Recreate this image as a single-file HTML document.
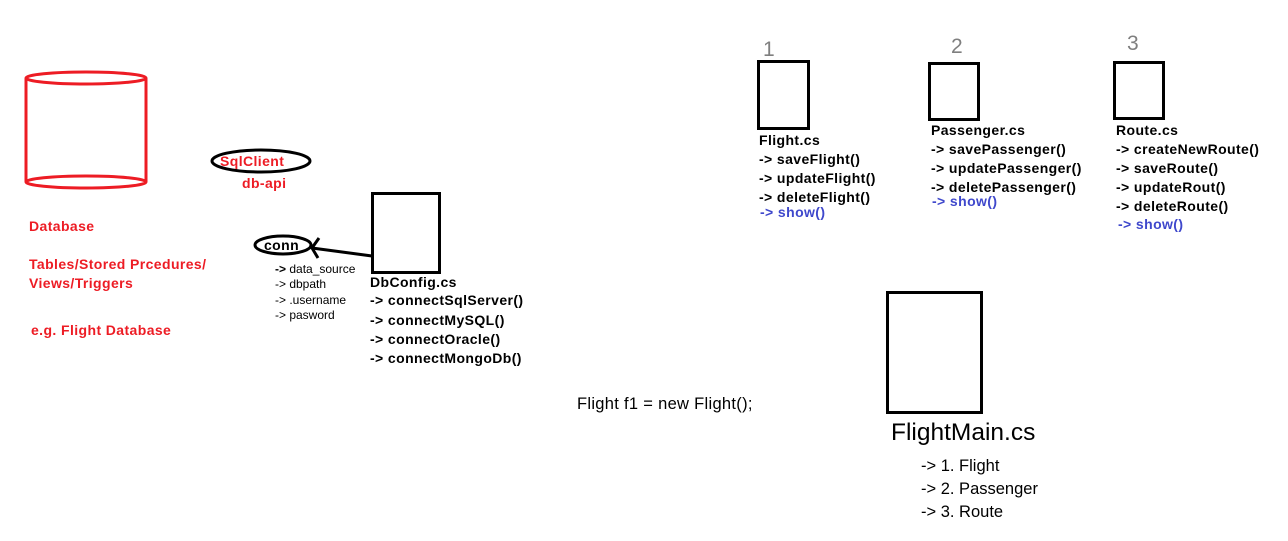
<!DOCTYPE html>
<html><head><meta charset="utf-8"><style>
html,body{margin:0;padding:0;background:#fff;}
svg{display:block;}
text{font-family:"Liberation Sans","DejaVu Sans",sans-serif;}
.b{font-weight:bold;font-size:14px;letter-spacing:0.4px;fill:#000;}
.r{font-weight:bold;font-size:14px;letter-spacing:0.4px;fill:#ed1c24;}
.bl{font-weight:bold;font-size:14px;letter-spacing:0.4px;fill:#3f48cc;}
.s{font-size:12px;fill:#000;}
.n{font-size:16.5px;fill:#000;}
.g{font-size:21px;fill:#7f7f7f;}
</style></head><body>
<svg width="1288" height="541" viewBox="0 0 1288 541" xmlns="http://www.w3.org/2000/svg">
<g fill="none" stroke="#ed1c24" stroke-width="3">
<ellipse cx="86" cy="78" rx="60" ry="6"/>
<line x1="26" y1="78" x2="26" y2="182"/>
<line x1="146" y1="78" x2="146" y2="182"/>
<ellipse cx="86" cy="182" rx="60" ry="6"/>
</g>
<text class="r" x="29" y="231">Database</text>
<text class="r" x="29" y="269">Tables/Stored Prcedures/</text>
<text class="r" x="29" y="288">Views/Triggers</text>
<text class="r" x="31" y="335">e.g. Flight Database</text>
<ellipse cx="261" cy="161" rx="49" ry="11" fill="none" stroke="#000" stroke-width="3"/>
<text class="r" x="220" y="166">SqlClient</text>
<text class="r" x="242" y="188">db-api</text>
<ellipse cx="283" cy="245" rx="28" ry="9" fill="none" stroke="#000" stroke-width="3"/>
<text class="b" x="264" y="250">conn</text>
<g stroke="#000" stroke-width="3" fill="none">
<line x1="372" y1="256" x2="312" y2="248"/>
<polyline points="319,238 312,248 318,258"/>
</g>
<text class="s" x="275" y="273"><tspan font-weight="bold">-&gt;</tspan> data_source</text>
<text class="s" x="275" y="288">-&gt; dbpath</text>
<text class="s" x="275" y="304">-&gt; .username</text>
<text class="s" x="275" y="319">-&gt; pasword</text>
<rect x="372.5" y="193.5" width="67" height="79" fill="none" stroke="#000" stroke-width="3"/>
<text class="b" x="370" y="287">DbConfig.cs</text>
<text class="b" x="370" y="305">-&gt; connectSqlServer()</text>
<text class="b" x="370" y="325">-&gt; connectMySQL()</text>
<text class="b" x="370" y="344">-&gt; connectOracle()</text>
<text class="b" x="370" y="363">-&gt; connectMongoDb()</text>
<text class="g" x="763" y="56">1</text>
<rect x="758.5" y="61.5" width="50" height="67" fill="none" stroke="#000" stroke-width="3"/>
<text class="b" x="759" y="145">Flight.cs</text>
<text class="b" x="759" y="164">-&gt; saveFlight()</text>
<text class="b" x="759" y="183">-&gt; updateFlight()</text>
<text class="b" x="759" y="202">-&gt; deleteFlight()</text>
<text class="bl" x="760" y="217">-&gt; show()</text>
<text class="g" x="951" y="53">2</text>
<rect x="929.5" y="63.5" width="49" height="56" fill="none" stroke="#000" stroke-width="3"/>
<text class="b" x="931" y="135">Passenger.cs</text>
<text class="b" x="931" y="154">-&gt; savePassenger()</text>
<text class="b" x="931" y="173">-&gt; updatePassenger()</text>
<text class="b" x="931" y="192">-&gt; deletePassenger()</text>
<text class="bl" x="932" y="206">-&gt; show()</text>
<text class="g" x="1127" y="50">3</text>
<rect x="1114.5" y="62.5" width="49" height="56" fill="none" stroke="#000" stroke-width="3"/>
<text class="b" x="1116" y="135">Route.cs</text>
<text class="b" x="1116" y="154">-&gt; createNewRoute()</text>
<text class="b" x="1116" y="173">-&gt; saveRoute()</text>
<text class="b" x="1116" y="192">-&gt; updateRout()</text>
<text class="b" x="1116" y="211">-&gt; deleteRoute()</text>
<text class="bl" x="1118" y="229">-&gt; show()</text>
<text class="n" x="577" y="409" style="letter-spacing:0.3px">Flight f1 = new Flight();</text>
<rect x="887.5" y="292.5" width="94" height="120" fill="none" stroke="#000" stroke-width="3"/>
<text x="891" y="440" style="font-size:24.5px;fill:#000">FlightMain.cs</text>
<text class="n" x="921" y="471">-&gt; 1. Flight</text>
<text class="n" x="921" y="494">-&gt; 2. Passenger</text>
<text class="n" x="921" y="517">-&gt; 3. Route</text>
</svg>
</body></html>
